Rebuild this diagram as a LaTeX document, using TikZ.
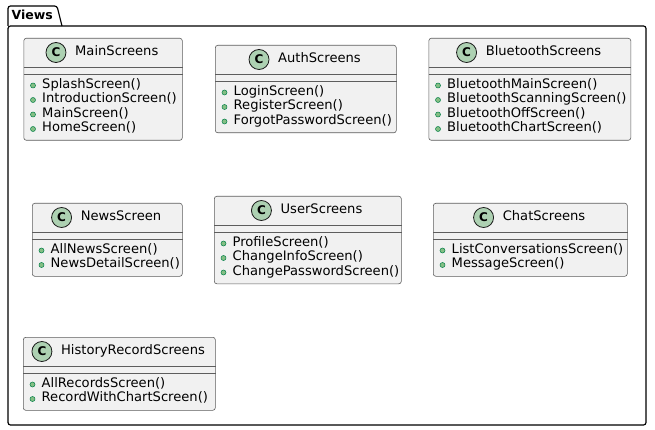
\documentclass[tikz,border=0pt]{standalone}
\usepackage{fontspec}
\setmainfont{DejaVu Sans}
\definecolor{classfill}{HTML}{F1F1F1}
\definecolor{classline}{HTML}{181818}
\definecolor{spotfill}{HTML}{ADD1B2}
\definecolor{dotfill}{HTML}{84BE84}
\definecolor{dotline}{HTML}{038048}
\tikzset{
  classbox/.style={draw=classline!70, fill=classfill, line width=0.6pt, rounded corners=2.5pt, inner sep=0pt},
  seprule/.style={draw=classline!70, line width=0.6pt},
  spot/.style={circle, draw=classline, fill=spotfill, line width=0.8pt, minimum size=20pt, inner sep=0pt, font=\fontsize{12}{12}\selectfont\bfseries},
  classname/.style={inner sep=0pt, anchor=mid, font=\fontsize{13.1}{15}\selectfont},
  methodtext/.style={inner sep=0pt, anchor=mid west, font=\fontsize{13.1}{15}\selectfont},
  visdot/.style={circle, draw=dotline, fill=dotfill, line width=0.5pt, minimum size=5pt, inner sep=0pt},
  pkgline/.style={draw=black, line width=1.2pt},
}
\newcommand\umlclass[7]{%
  \pgfmathsetmacro\cw{#3-#2}%
  \pgfmathsetmacro\ch{58.5+(#7-1)*14.5}%
  \pgfmathsetmacro\cx{(#2+#3)/2+14}%
  \pgfmathsetmacro\hy{#4+14.5}%
  \node[classbox, minimum width=\cw pt, minimum height=\ch pt, anchor=north west] (#1) at (#2,#4) {};
  \draw[seprule] ([yshift=-29pt]#1.north west) -- ([yshift=-29pt]#1.north east);
  \draw[seprule] ([yshift=-36pt]#1.north west) -- ([yshift=-36pt]#1.north east);
  \node[classname] (#1-name) at (\cx,\hy) {#5};
  \node[spot] (#1-c) at ([xshift=-19pt]#1-name.west |- 0,\hy) {C};
  \foreach \m [count=\i] in {#6} {
    \pgfmathsetmacro\ry{#4+47.5+(\i-1)*14.5}
    \node[visdot] (#1-d\i) at (#2+9.5,\ry) {};
    \node[methodtext] (#1-m\i) at (#2+18.5,\ry) {\m};
  }%
}
\begin{document}
\begin{tikzpicture}[x=1pt,y=-1pt]
\useasboundingbox (0,0) rectangle (655,430);
% package
\draw[pkgline, fill=white, rounded corners=2.5pt] (8,26) -- (646,26) -- (646,425) -- (8,425) -- cycle;
\draw[pkgline, rounded corners=2.5pt] (8,26) -- (8,6) -- (57,6) -- (62,26);
\node[inner sep=0pt, anchor=mid west, font=\fontsize{12.5}{15}\selectfont\bfseries] (views) at (11.5,17) {Views};
% classes
\umlclass{main}{23.5}{182}{38}{MainScreens}{SplashScreen(),IntroductionScreen(),MainScreen(),HomeScreen()}{4}
\umlclass{auth}{215}{396}{45}{AuthScreens}{LoginScreen(),RegisterScreen(),ForgotPasswordScreen()}{3}
\umlclass{bt}{428.5}{630.5}{38}{BluetoothScreens}{BluetoothMainScreen(),BluetoothScanningScreen(),BluetoothOffScreen(),BluetoothChartScreen()}{4}
\umlclass{news}{32}{182}{203}{NewsScreen}{AllNewsScreen(),NewsDetailScreen()}{2}
\umlclass{user}{214}{401}{196}{UserScreens}{ProfileScreen(),ChangeInfoScreen(),ChangePasswordScreen()}{3}
\umlclass{chat}{433}{627}{203}{ChatScreens}{ListConversationsScreen(),MessageScreen()}{2}
\umlclass{hist}{23}{215}{337}{HistoryRecordScreens}{AllRecordsScreen(),RecordWithChartScreen()}{2}
\end{tikzpicture}
\end{document}
